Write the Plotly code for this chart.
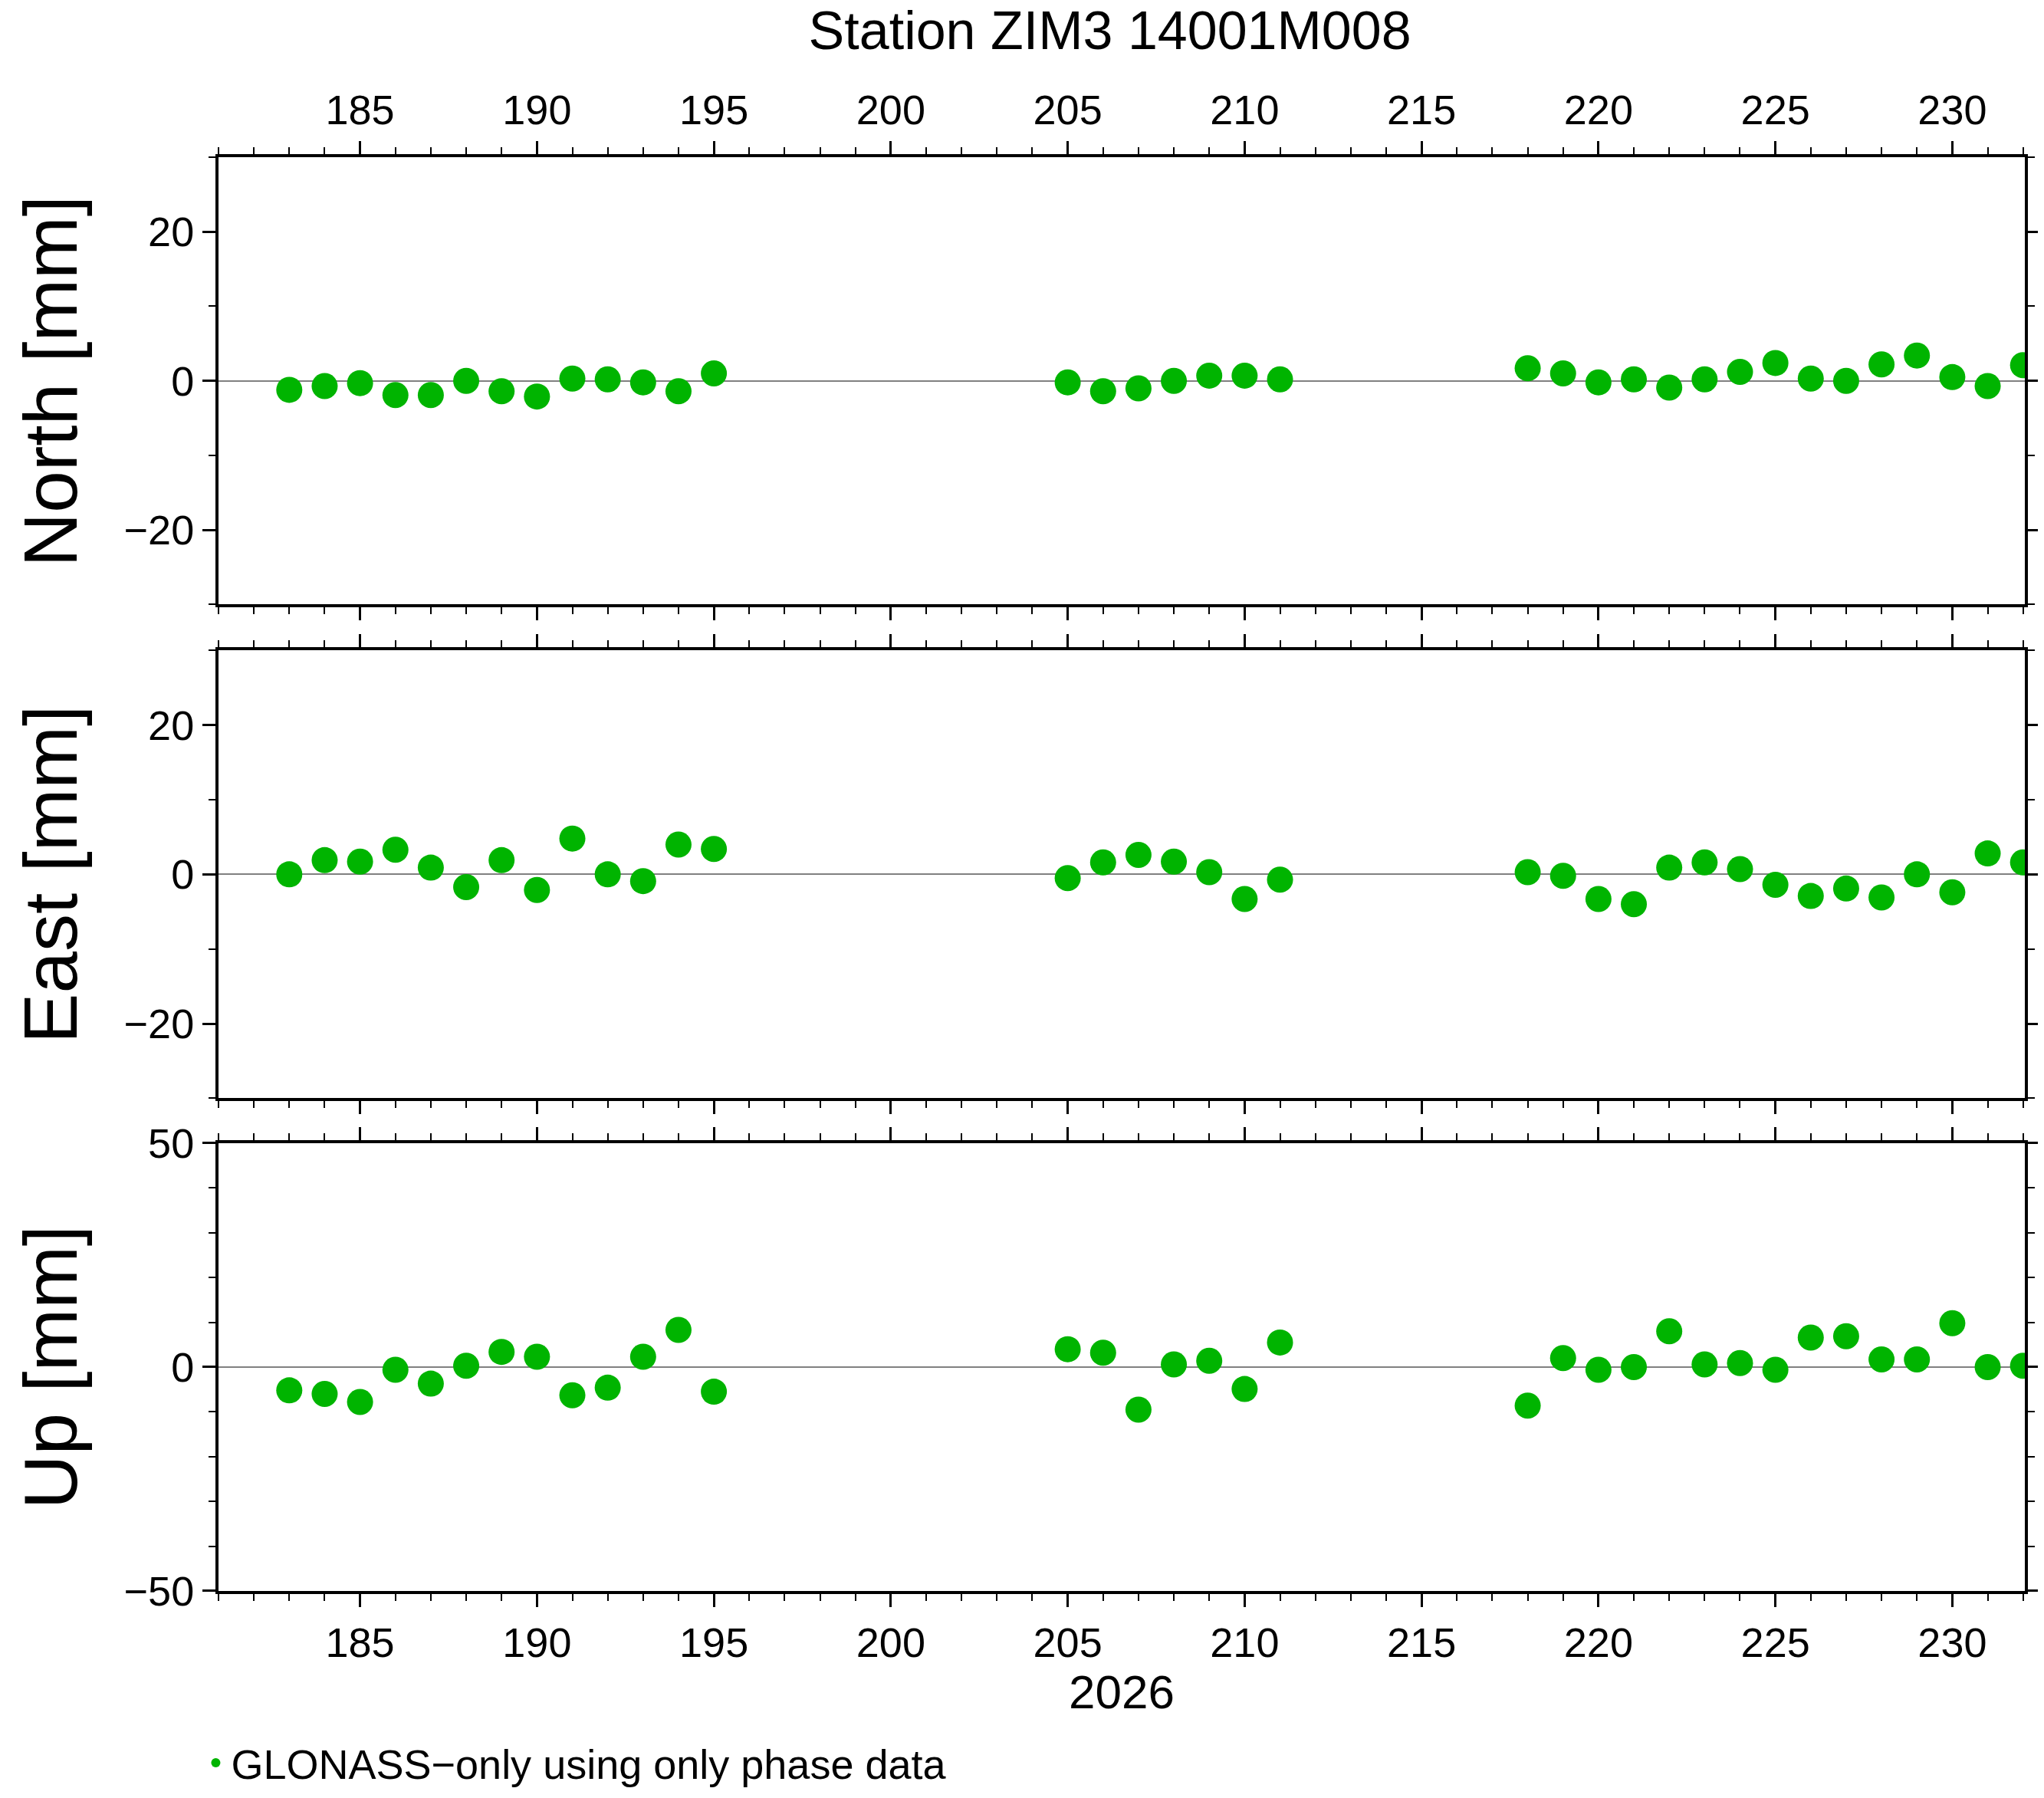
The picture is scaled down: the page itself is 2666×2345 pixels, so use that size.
import plotly.graph_objects as go

# day-of-year for each segment
days = [183, 184, 185, 186, 187, 188, 189, 190, 191, 192, 193, 194, 195,
        205, 206, 207, 208, 209, 210, 211,
        218, 219, 220, 221, 222, 223, 224, 225, 226, 227, 228, 229, 230, 231, 232]

north = [-1.2, -0.7, -0.3, -1.9, -1.9, 0.0, -1.4, -2.1, 0.3, 0.2, -0.2, -1.4, 1.0,
         -0.2, -1.4, -1.0, 0.0, 0.7, 0.7, 0.2,
         1.7, 1.0, -0.2, 0.2, -0.9, 0.2, 1.2, 2.4, 0.3, 0.0, 2.2, 3.4, 0.5, -0.7, 2.1]

east = [0.0, 1.9, 1.7, 3.3, 0.9, -1.7, 1.9, -2.1, 4.8, 0.0, -0.9, 4.0, 3.4,
        -0.5, 1.6, 2.6, 1.7, 0.3, -3.3, -0.7,
        0.3, -0.2, -3.3, -4.0, 0.9, 1.6, 0.7, -1.4, -2.9, -1.9, -3.1, 0.0, -2.4, 2.8, 1.6]

up = [-5.2, -6.0, -7.8, -0.6, -3.7, 0.3, 3.4, 2.3, -6.3, -4.6, 2.3, 8.3, -5.5,
      4.0, 3.2, -9.5, 0.6, 1.4, -4.9, 5.5,
      -8.6, 2.0, -0.6, 0.0, 8.0, 0.6, 0.9, -0.6, 6.6, 6.9, 1.7, 1.7, 9.8, 0.0, 0.3]

GREEN = 'rgb(0,180,0)'
FONT = 'Liberation Sans'
TICKFONT = dict(family=FONT, size=54, color='black')

fig = go.Figure()
for i, vals in enumerate([north, east, up]):
    fig.add_trace(go.Scatter(
        x=days, y=vals, mode='markers',
        marker=dict(size=34, color=GREEN),
        name='GLONASS\u2212only using only phase data',
        showlegend=(i == 0),
        xaxis='x' if i == 0 else 'x%d' % (i + 1),
        yaxis='y' if i == 0 else 'y%d' % (i + 1),
    ))

xcommon = dict(range=[181, 232.05], tick0=185, dtick=5, ticks='outside', ticklen=17,
               tickwidth=3, tickcolor='black', showline=True, linewidth=4, linecolor='black',
               mirror='ticks', showgrid=False, zeroline=False, tickfont=TICKFONT,
               minor=dict(dtick=1, ticks='outside', ticklen=9, tickwidth=2, tickcolor='black'))
ycommon = dict(ticks='outside', ticklen=17, tickwidth=3, tickcolor='black', showline=True,
               linewidth=4, linecolor='black', mirror='ticks', showgrid=False,
               zeroline=True, zerolinecolor='gray', zerolinewidth=1.5, tickfont=TICKFONT,
               minor=dict(dtick=10, ticks='outside', ticklen=9, tickwidth=2, tickcolor='black'))

fig.update_layout(
    width=2666, height=2345,
    paper_bgcolor='white', plot_bgcolor='white',
    margin=dict(l=277, r=26, t=197, b=259),
    title=dict(text='Station ZIM3 14001M008', x=0.54, xanchor='center', y=0.997,
               yanchor='top', font=dict(family=FONT, size=70, color='black')),
    xaxis=dict(xcommon, side='top', anchor='y'),
    xaxis2=dict(xcommon, showticklabels=False, anchor='y2', matches='x'),
    xaxis3=dict(xcommon, anchor='y3', matches='x',
                title=dict(text='2026', font=dict(family=FONT, size=62, color='black'),
                           standoff=6)),
    yaxis=dict(ycommon, domain=[0.688, 1.0], range=[-30, 30], dtick=20),
    yaxis2=dict(ycommon, domain=[0.3436, 0.656], range=[-30, 30], dtick=20),
    yaxis3=dict(ycommon, domain=[0.0, 0.3123], range=[-50, 50], dtick=50),
    legend=dict(x=-0.01, y=-0.12, xanchor='left', yanchor='middle', itemsizing='constant',
                font=dict(family=FONT, size=54, color='black'), bgcolor='rgba(0,0,0,0)'),
    separators='.\u2212',
)

for label, ymid in [('North [mm]', 0.844), ('East [mm]', 0.5), ('Up [mm]', 0.156)]:
    fig.add_annotation(text=label, xref='paper', yref='paper', x=-0.093, y=ymid,
                       textangle=-90, showarrow=False, xanchor='center', yanchor='middle',
                       font=dict(family=FONT, size=98, color='black'))

fig.write_html("out.html")
